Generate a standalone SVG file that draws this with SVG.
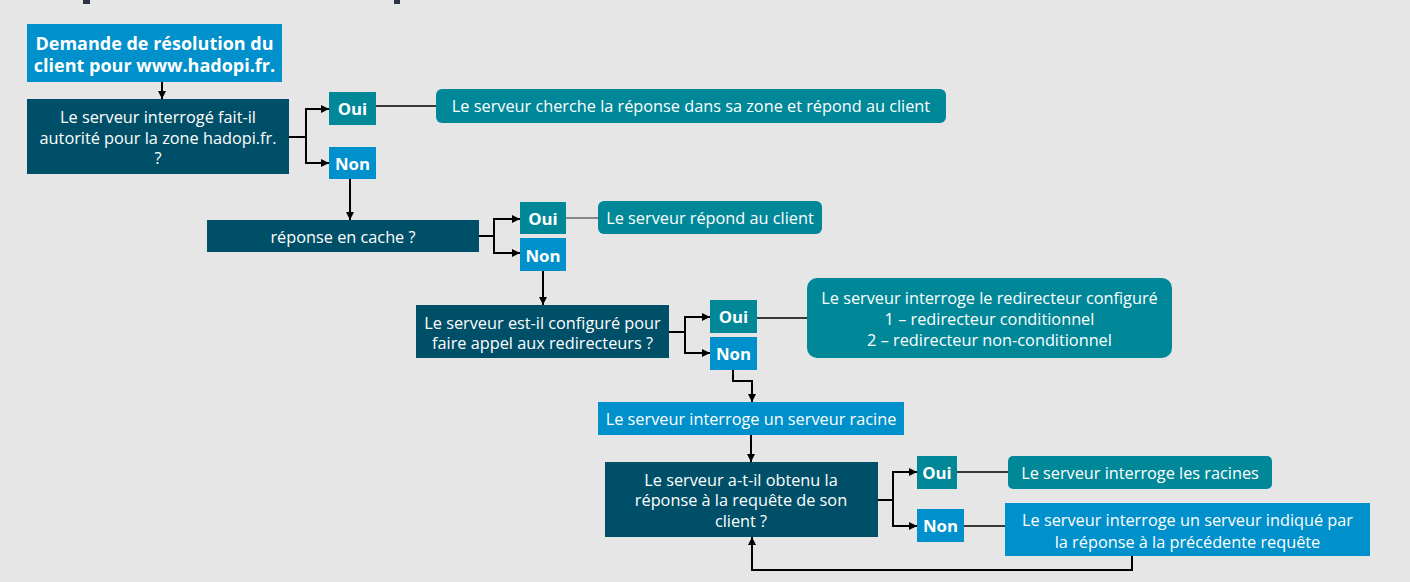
<svg xmlns="http://www.w3.org/2000/svg" width="1410" height="582" viewBox="0 0 1410 582">
<defs>
<marker id="ah" viewBox="0 0 10 10" refX="10" refY="5" markerWidth="9" markerHeight="8" markerUnits="userSpaceOnUse" orient="auto">
<path d="M0,0 L10,5 L0,10 z" fill="#000"/>
</marker>
<style>
.bg{fill:#e5e6e5}
.lb{fill:#0090cb}
.tl{fill:#008899}
.dk{fill:#004f68}
text{font-family:"Open Sans","Noto Sans","Liberation Sans",sans-serif;fill:#fff;text-anchor:middle;dominant-baseline:central}
.t{font-size:16.3px}
.b{font-size:18px;font-weight:bold}
.yn{font-size:16.8px;font-weight:bold}
.arr{fill:none;stroke:#000;stroke-width:2;marker-end:url(#ah)}
.ln{fill:none;stroke:#000;stroke-width:1.3}
.ln2{fill:none;stroke:#555;stroke-width:1.3}
.br{fill:none;stroke:#000;stroke-width:2}
</style>
</defs>
<rect class="bg" x="0" y="0" width="1410" height="582"/>
<rect x="83" y="0" width="7" height="4" fill="#2e3447"/>
<rect x="394" y="0" width="6" height="4" fill="#2e3447"/>

<g id="connectors">
<path class="arr" d="M162,82 V99"/>
<path class="br" d="M289,137 H306"/>
<path class="arr" d="M306,137 V109 H329"/>
<path class="arr" d="M306,137 V163 H329"/>
<path class="ln" d="M376,106 H436"/>
<path class="arr" d="M350,179 V220"/>
<path class="br" d="M479,236 H494"/>
<path class="arr" d="M494,236 V219 H520"/>
<path class="arr" d="M494,236 V253 H520"/>
<path class="ln2" d="M566,218 H598"/>
<path class="arr" d="M543,271 V305"/>
<path class="br" d="M669,332 H685"/>
<path class="arr" d="M685,332 V317 H710"/>
<path class="arr" d="M685,332 V353 H710"/>
<path class="ln" d="M757,318 H807"/>
<path class="arr" d="M733,370 V381 H752 V402"/>
<path class="arr" d="M751,435 V462"/>
<path class="br" d="M878,500 H893"/>
<path class="arr" d="M893,500 V472 H917"/>
<path class="arr" d="M893,500 V526 H917"/>
<path class="ln" d="M957,472 H1008"/>
<path class="ln" d="M964,526 H1005"/>
<path class="arr" d="M1132,556 V570 H752 V537"/>
</g>

<g id="n-demande">
<rect class="lb" x="27" y="24" width="255" height="58"/>
<text class="b" x="154.5" y="42.5">Demande de résolution du</text>
<text class="b" x="154.5" y="65">client pour www.hadopi.fr.</text>
</g>

<g id="n-autorite">
<rect class="dk" x="27" y="99" width="262" height="75"/>
<text class="t" x="158" y="117">Le serveur interrogé fait-il</text>
<text class="t" x="158" y="138">autorité pour la zone hadopi.fr.</text>
<text class="t" x="158" y="158">?</text>
</g>

<g id="n-oui1">
<rect class="tl" x="329" y="92" width="47" height="33"/>
<text class="yn" x="352.5" y="108.5">Oui</text>
</g>
<g id="n-non1">
<rect class="lb" x="329" y="147" width="47" height="32"/>
<text class="yn" x="352.5" y="163">Non</text>
</g>
<g id="n-res1">
<rect class="tl" x="436" y="89" width="510" height="34" rx="6"/>
<text class="t" x="691" y="106">Le serveur cherche la réponse dans sa zone et répond au client</text>
</g>

<g id="n-cache">
<rect class="dk" x="207" y="220" width="272" height="32"/>
<text class="t" x="343" y="237">réponse en cache ?</text>
</g>
<g id="n-oui2">
<rect class="tl" x="520" y="202" width="46" height="32"/>
<text class="yn" x="543" y="218">Oui</text>
</g>
<g id="n-non2">
<rect class="lb" x="520" y="238" width="46" height="33"/>
<text class="yn" x="543" y="255">Non</text>
</g>
<g id="n-res2">
<rect class="tl" x="598" y="201" width="224" height="33" rx="6"/>
<text class="t" x="710" y="217.5">Le serveur répond au client</text>
</g>

<g id="n-redir">
<rect class="dk" x="416" y="305" width="253" height="53"/>
<text class="t" x="542.5" y="323">Le serveur est-il configuré pour</text>
<text class="t" x="542.5" y="343">faire appel aux redirecteurs ?</text>
</g>
<g id="n-oui3">
<rect class="tl" x="710" y="300" width="47" height="33"/>
<text class="yn" x="733.5" y="316.5">Oui</text>
</g>
<g id="n-non3">
<rect class="lb" x="710" y="337" width="47" height="33"/>
<text class="yn" x="733.5" y="353.5">Non</text>
</g>
<g id="n-res3">
<rect class="tl" x="807" y="278" width="365" height="80" rx="10"/>
<text class="t" x="989.5" y="298">Le serveur interroge le redirecteur configuré</text>
<text class="t" x="989.5" y="319">1 – redirecteur conditionnel</text>
<text class="t" x="989.5" y="340">2 – redirecteur non-conditionnel</text>
</g>

<g id="n-racine">
<rect class="lb" x="598" y="402" width="306" height="33"/>
<text class="t" x="751" y="418.5">Le serveur interroge un serveur racine</text>
</g>

<g id="n-obtenu">
<rect class="dk" x="605" y="462" width="273" height="75"/>
<text class="t" x="741" y="480">Le serveur a-t-il obtenu la</text>
<text class="t" x="741" y="500">réponse à la requête de son</text>
<text class="t" x="741" y="521">client ?</text>
</g>
<g id="n-oui4">
<rect class="tl" x="917" y="456" width="40" height="33"/>
<text class="yn" x="937" y="472.5">Oui</text>
</g>
<g id="n-non4">
<rect class="lb" x="917" y="509" width="47" height="33"/>
<text class="yn" x="940.5" y="525.5">Non</text>
</g>
<g id="n-res4">
<rect class="tl" x="1008" y="456" width="264" height="33" rx="5"/>
<text class="t" x="1140" y="472.5">Le serveur interroge les racines</text>
</g>
<g id="n-res5">
<rect class="lb" x="1005" y="503" width="365" height="53"/>
<text class="t" x="1187.5" y="520">Le serveur interroge un serveur indiqué par</text>
<text class="t" x="1187.5" y="542">la réponse à la précédente requête</text>
</g>
</svg>
